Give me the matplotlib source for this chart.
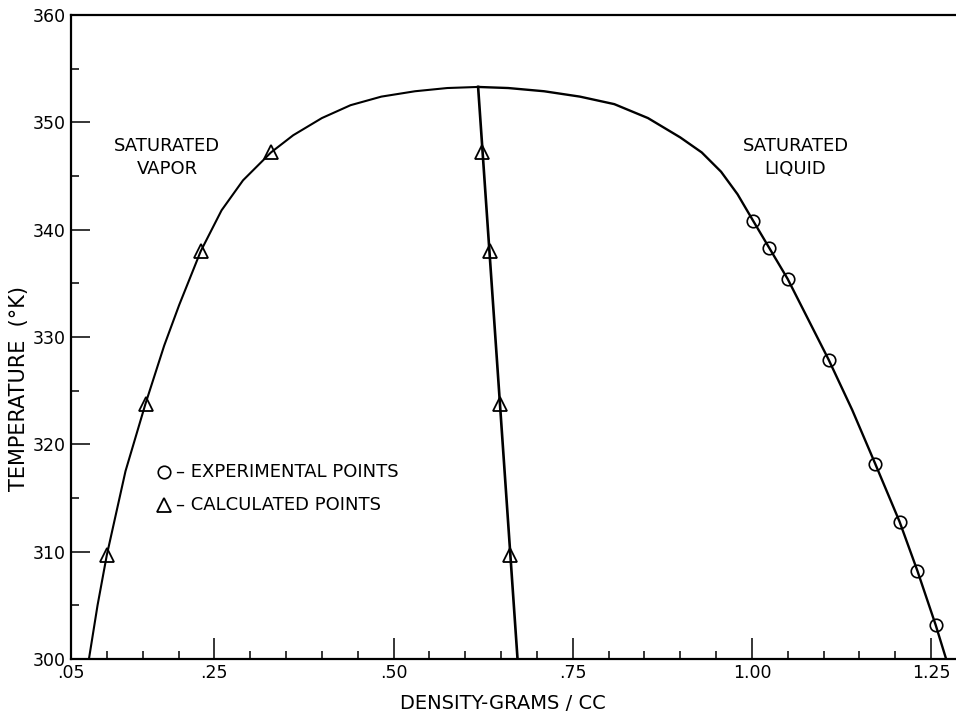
import matplotlib
matplotlib.use("Agg")
import matplotlib.pyplot as plt
from matplotlib.ticker import MultipleLocator, FixedLocator

# saturated vapor branch (density g/cc, temperature K)
vapor_rho = [0.075, 0.087, 0.100, 0.126, 0.154, 0.180, 0.201, 0.231, 0.260,
             0.290, 0.329, 0.360, 0.400, 0.440, 0.483, 0.530, 0.575, 0.618]
vapor_T = [300.0, 305.0, 309.7, 317.5, 323.8, 329.2, 333.0, 338.0, 341.8,
           344.6, 347.2, 348.8, 350.4, 351.6, 352.4, 352.9, 353.2, 353.3]

# saturated liquid branch
liquid_rho = [0.618, 0.660, 0.710, 0.760, 0.808, 0.855, 0.900, 0.930, 0.957,
              0.980, 1.002, 1.050, 1.107, 1.140, 1.172, 1.206, 1.231, 1.2565, 1.271]
liquid_T = [353.3, 353.2, 352.9, 352.4, 351.7, 350.4, 348.6, 347.2, 345.4,
            343.3, 340.8, 335.4, 327.9, 323.2, 318.2, 312.8, 308.2, 303.15, 300.0]

# rectilinear diameter
mid_rho = [0.673, 0.618]
mid_T = [300.0, 353.3]

# measured liquid densities
exp_rho = [1.002, 1.0245, 1.050, 1.107, 1.172, 1.206, 1.231, 1.2565]
exp_T = [340.8, 338.3, 335.4, 327.9, 318.2, 312.8, 308.2, 303.15]

# calculated points
calc_T = [309.7, 323.8, 338.0, 347.2]
calc_vap_rho = [0.100, 0.154, 0.231, 0.329]
calc_mid_rho = [0.663, 0.648, 0.634, 0.624]

x_ticks = [0.05, 0.25, 0.50, 0.75, 1.00, 1.25]
x_labels = [".05", ".25", ".50", ".75", "1.00", "1.25"]

plt.rcParams['font.family'] = ['DejaVu Sans']

fig = plt.figure(figsize=(9.56, 7.17), dpi=100)
ax = fig.add_axes([0.0743, 0.081, 0.9257, 0.898])

ax.plot(vapor_rho, vapor_T, color='black', lw=1.5)
ax.plot(liquid_rho, liquid_T, color='black', lw=1.7)
ax.plot(mid_rho, mid_T, color='black', lw=1.9)

ax.plot(exp_rho, exp_T, 'o', ms=9, mfc='none', mec='black', mew=1.2)
ax.plot(calc_vap_rho, calc_T, '^', ms=9.5, mfc='none', mec='black', mew=1.3)
ax.plot(calc_mid_rho, calc_T, '^', ms=9.5, mfc='none', mec='black', mew=1.3)

ax.set_xlim(0.05, 1.2848)
ax.set_ylim(300, 360)

ax.xaxis.set_major_locator(FixedLocator(x_ticks))
ax.set_xticks(x_ticks)
ax.set_xticklabels(x_labels)
ax.xaxis.set_minor_locator(MultipleLocator(0.05))
ax.yaxis.set_major_locator(MultipleLocator(10))
ax.yaxis.set_minor_locator(MultipleLocator(5))

ax.tick_params(which='both', direction='in', top=False, right=False,
               labelsize=12.5, width=1.1, pad=4)
ax.tick_params(axis='x', which='major', length=15)
ax.tick_params(axis='x', which='minor', length=6)
ax.tick_params(axis='y', which='major', length=14)
ax.tick_params(axis='y', which='minor', length=6)

ax.spines['right'].set_visible(False)
for s in ['left', 'bottom', 'top']:
    ax.spines[s].set_linewidth(1.6)

ax.set_xlabel("DENSITY-GRAMS / CC", fontsize=14)
ax.set_ylabel("TEMPERATURE  (°K)", fontsize=15)
ax.xaxis.set_label_coords(0.488, -0.055)
ax.yaxis.set_label_coords(-0.048, 0.42)

ax.text(0.184, 346.7, "SATURATED\nVAPOR", ha='center', va='center',
        fontsize=13, linespacing=1.35)
ax.text(1.061, 346.7, "SATURATED\nLIQUID", ha='center', va='center',
        fontsize=13, linespacing=1.35)

# key
ax.plot([0.18], [317.4], 'o', ms=9, mfc='none', mec='black', mew=1.2)
ax.plot([0.18], [314.3], '^', ms=9.5, mfc='none', mec='black', mew=1.3)
ax.text(0.197, 317.4, "– EXPERIMENTAL POINTS", va='center', fontsize=13)
ax.text(0.197, 314.3, "– CALCULATED POINTS", va='center', fontsize=13)

fig.savefig("out.png", dpi=100)
